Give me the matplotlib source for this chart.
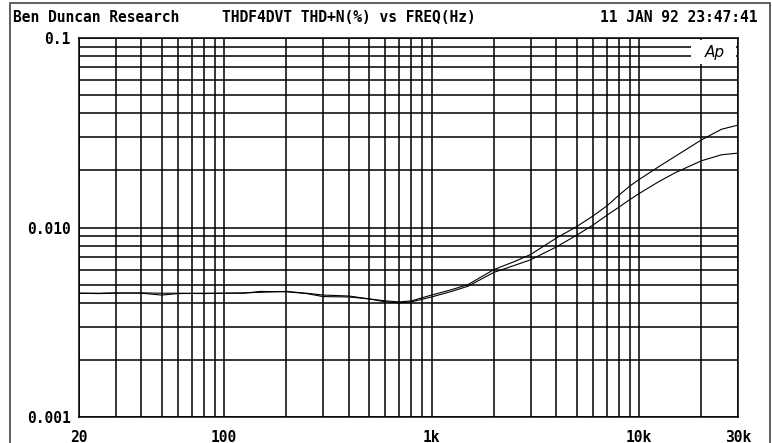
import matplotlib
matplotlib.use("Agg")
import matplotlib.pyplot as plt
from matplotlib.patches import Rectangle
from matplotlib.ticker import FixedLocator, LogLocator, NullFormatter

# THD+N (%) vs frequency (Hz), two channels
freq = [20, 25, 30, 40, 50, 60, 80, 100, 125, 150, 200, 250, 300, 400,
        500, 600, 700, 800, 1000, 1250, 1500, 2000, 2500, 3000, 4000,
        5000, 6000, 7000, 8000, 9000, 10000, 12500, 15000, 20000, 25000, 30000]
thd_a = [0.0045, 0.0045, 0.00452, 0.0045, 0.0044, 0.00448, 0.0045, 0.0045,
         0.00452, 0.00455, 0.0046, 0.0045, 0.0044, 0.00435, 0.0042, 0.0041,
         0.00405, 0.0041, 0.0044, 0.0047, 0.0050, 0.0060, 0.0066, 0.0072,
         0.0088, 0.0101, 0.0115, 0.0130, 0.0148, 0.0165, 0.0179, 0.0210,
         0.0238, 0.0290, 0.0330, 0.0347]
thd_b = [0.0045, 0.00448, 0.0045, 0.00452, 0.0045, 0.0045, 0.00448, 0.0045,
         0.0045, 0.0046, 0.00458, 0.00448, 0.00432, 0.0043, 0.0042, 0.00405,
         0.0040, 0.00405, 0.0043, 0.0046, 0.0049, 0.0058, 0.0063, 0.00675,
         0.0079, 0.0091, 0.0103, 0.0116, 0.0128, 0.0140, 0.0151, 0.0175,
         0.0195, 0.0225, 0.0242, 0.0247]

xticks = [20, 100, 1000, 10000, 30000]
xlabels = ["20", "100", "1k", "10k", "30k"]
yticks = [0.001, 0.01, 0.1]
ylabels = ["0.001", "0.010", "0.1"]

mono = "DejaVu Sans Mono"
fs = 10.5

fig = plt.figure(figsize=(7.72, 4.43), dpi=100)
ax = fig.add_axes([79 / 772, 26 / 443, 659 / 772, 379 / 443])
ax.set_xscale("log")
ax.set_yscale("log")
ax.set_xlim(20, 30000)
ax.set_ylim(0.001, 0.1)

ax.xaxis.set_major_locator(FixedLocator(xticks))
ax.set_xticklabels(xlabels)
ax.xaxis.set_minor_locator(LogLocator(base=10, subs=range(1, 10), numticks=20))
ax.xaxis.set_minor_formatter(NullFormatter())
ax.yaxis.set_major_locator(FixedLocator(yticks))
ax.set_yticklabels(ylabels)
ax.yaxis.set_minor_locator(LogLocator(base=10, subs=range(1, 10), numticks=20))
ax.yaxis.set_minor_formatter(NullFormatter())

ax.grid(which="both", color="black", lw=1.1)
ax.tick_params(which="both", length=0)
ax.tick_params(axis="x", pad=9)
ax.tick_params(axis="y", pad=6)
for lab in ax.get_xticklabels() + ax.get_yticklabels():
    lab.set_family(mono)
    lab.set_weight("bold")
    lab.set_fontsize(fs)
for sp in ax.spines.values():
    sp.set_linewidth(1.1)

ax.plot(freq, thd_a, color="black", lw=0.8, zorder=3)
ax.plot(freq, thd_b, color="black", lw=0.8, zorder=3)

# Audio Precision logo box
ax.add_patch(Rectangle((17900, 0.073), 29400 - 17900, 0.0975 - 0.073,
                       facecolor="white", edgecolor="none", zorder=2))
ax.text(23200, 0.0835, "Ap", fontsize=11, style="italic", weight="light",
        ha="center", va="center", zorder=4)

fig.text(13 / 772, 1 - 18 / 443, "Ben Duncan Research", family=mono,
         weight="bold", fontsize=fs, va="center", ha="left")
fig.text(222 / 772, 1 - 18 / 443, "THDF4DVT THD+N(%) vs FREQ(Hz)", family=mono,
         weight="bold", fontsize=fs, va="center", ha="left")
fig.text(758 / 772, 1 - 18 / 443, "11 JAN 92 23:47:41", family=mono,
         weight="bold", fontsize=fs, va="center", ha="right")

# outer frame
fig.add_artist(Rectangle((10 / 772, -0.02), 760 / 772, 1.02 - 3 / 443,
                         transform=fig.transFigure, fill=False,
                         edgecolor="#444444", lw=1.2))

fig.savefig("out.png", dpi=100)
